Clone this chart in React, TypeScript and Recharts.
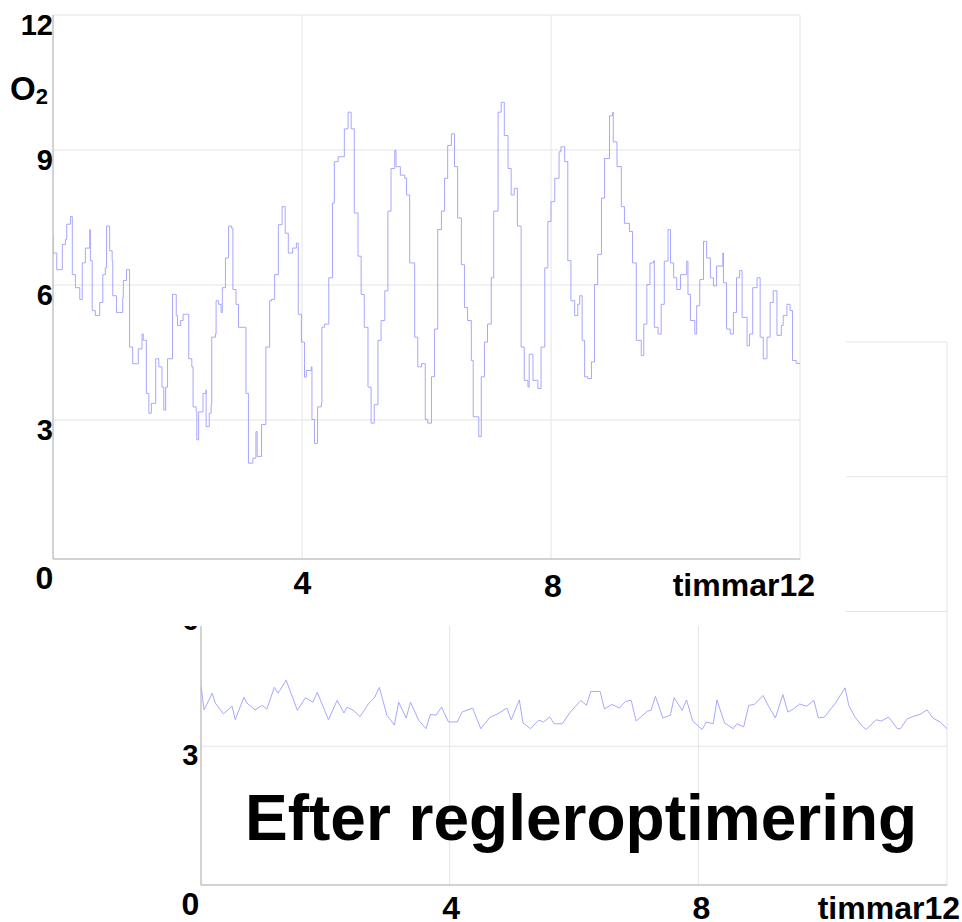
import React from "react"
import { LineChart, Line, XAxis, YAxis, CartesianGrid } from "recharts"

const FONT = "Arial, 'Liberation Sans', Helvetica, sans-serif"

// x in timmar (hours), y in O2
const hourTicks = [0, 4, 8, 12]
const o2Ticks = [3, 6, 9, 12]
const o2Domain = [-0.09, 12]
const xUnit = "timmar"
const afterTitle = "Efter regleroptimering"

// before optimisation
const before: [number, number][] = [
  [0, 7.08], [0, 6.71], [0.06, 6.65], [0.06, 6.34], [0.15, 6.49], [0.15, 6.9], [0.2, 7.01], [0.22, 7.35], [0.28, 7.52],
  [0.31, 7.52], [0.31, 6.23], [0.36, 6.05], [0.36, 5.94], [0.43, 5.83], [0.43, 5.68], [0.47, 5.94], [0.47, 6.49],
  [0.52, 6.6], [0.52, 6.82], [0.59, 6.93], [0.59, 7.23], [0.6, 6.54], [0.63, 6.38], [0.63, 5.43], [0.68, 5.32],
  [0.75, 5.61], [0.8, 6.23], [0.84, 6.38], [0.86, 7.31], [0.91, 7.31], [0.91, 6.76], [0.95, 6.54], [0.96, 5.76],
  [1.02, 5.61], [1.02, 5.39], [1.07, 5.39], [1.12, 5.72], [1.13, 6.1], [1.18, 6.34], [1.23, 6.34], [1.23, 4.62],
  [1.28, 4.48], [1.28, 4.25], [1.34, 4.25], [1.37, 4.58], [1.43, 4.91], [1.45, 4.77], [1.5, 3.59], [1.54, 3.4],
  [1.54, 3.15], [1.58, 3.15], [1.58, 3.37], [1.65, 3.51], [1.65, 4.36], [1.7, 4.18], [1.75, 3.73], [1.78, 3.22],
  [1.81, 3.22], [1.81, 3.73], [1.84, 3.85], [1.84, 4.36], [1.92, 5.79], [1.95, 5.79], [1.98, 5.32], [2.0, 5.1],
  [2.05, 5.21], [2.09, 5.35], [2.14, 5.35], [2.18, 4.36], [2.23, 4.18], [2.25, 3.29], [2.3, 3.18], [2.31, 2.56],
  [2.33, 2.56], [2.34, 3.18], [2.35, 3.18], [2.41, 3.59], [2.46, 3.67], [2.46, 2.85], [2.51, 3.15], [2.54, 3.34],
  [2.55, 4.84], [2.61, 4.91], [2.62, 5.65], [2.66, 5.57], [2.7, 5.39], [2.72, 5.94], [2.77, 6.05], [2.77, 6.6],
  [2.82, 6.65], [2.82, 7.31], [2.87, 7.26], [2.89, 5.9], [2.94, 5.57], [2.98, 5.06], [3.08, 5.06], [3.1, 3.59],
  [3.14, 3.45], [3.14, 2.04], [3.21, 2.15], [3.26, 2.15], [3.26, 2.74], [3.28, 2.19], [3.35, 2.9], [3.42, 4.62],
  [3.48, 5.65], [3.51, 5.68], [3.56, 6.23], [3.62, 7.34], [3.68, 7.74], [3.73, 7.15], [3.78, 6.71], [3.85, 6.82],
  [3.91, 6.93], [3.94, 5.35], [3.99, 4.73], [4.04, 4.55], [4.04, 3.95], [4.07, 4.1], [4.15, 4.18], [4.16, 3.01],
  [4.2, 2.48], [4.25, 3.29], [4.31, 3.37], [4.32, 5.06], [4.36, 5.13], [4.43, 6.16], [4.49, 7.82], [4.52, 8.74],
  [4.58, 8.85], [4.68, 9.47], [4.74, 9.84], [4.79, 9.47], [4.84, 7.6], [4.9, 6.64], [4.95, 5.79], [5.0, 5.06],
  [5.06, 3.73], [5.11, 2.93], [5.16, 3.34], [5.22, 4.77], [5.27, 5.21], [5.33, 5.87], [5.38, 7.64], [5.43, 8.59],
  [5.49, 8.99], [5.51, 8.63], [5.58, 8.44], [5.65, 8.37], [5.68, 8.0], [5.73, 6.49], [5.81, 4.84], [5.86, 4.18],
  [5.92, 4.25], [5.98, 3.01], [6.02, 2.93], [6.08, 3.96], [6.13, 5.02], [6.18, 7.23], [6.24, 7.64], [6.29, 8.37],
  [6.34, 9.1], [6.4, 9.36], [6.45, 8.63], [6.5, 7.49], [6.56, 6.45], [6.61, 5.5], [6.66, 5.21], [6.72, 4.32],
  [6.75, 3.07], [6.84, 2.63], [6.88, 3.96], [6.93, 4.73], [6.98, 5.13], [7.04, 6.16], [7.08, 7.64], [7.15, 9.84],
  [7.2, 10.06], [7.25, 9.32], [7.31, 8.59], [7.36, 8.0], [7.41, 8.15], [7.46, 7.31], [7.52, 4.62], [7.57, 3.88],
  [7.63, 3.73], [7.65, 4.46], [7.71, 3.88], [7.79, 3.7], [7.84, 4.62], [7.9, 6.38], [7.95, 7.41], [8.0, 7.85],
  [8.06, 8.37], [8.13, 8.96], [8.16, 9.07], [8.22, 8.74], [8.27, 6.54], [8.32, 5.65], [8.38, 5.32], [8.43, 5.57],
  [8.46, 5.76], [8.5, 4.77], [8.54, 3.96], [8.59, 3.92], [8.65, 4.29], [8.7, 6.01], [8.75, 6.68], [8.81, 7.93],
  [8.86, 8.81], [8.94, 9.76], [8.99, 9.84], [9.0, 9.18], [9.06, 8.63], [9.13, 7.74], [9.18, 7.37], [9.26, 7.19],
  [9.31, 6.49], [9.37, 4.77], [9.45, 4.43], [9.49, 5.13], [9.54, 6.01], [9.59, 6.49], [9.65, 6.54], [9.66, 5.06],
  [9.72, 4.91], [9.77, 5.57], [9.82, 6.53], [9.88, 7.23], [9.92, 6.49], [9.97, 6.16], [10.02, 5.9], [10.08, 6.23],
  [10.18, 6.53], [10.2, 5.79], [10.24, 5.21], [10.31, 4.91], [10.34, 5.54], [10.39, 6.12], [10.45, 6.97],
  [10.5, 6.6], [10.56, 6.16], [10.61, 5.98], [10.66, 6.42], [10.76, 6.71], [10.77, 6.05], [10.82, 5.02],
  [10.88, 4.91], [10.93, 5.39], [10.98, 6.16], [11.03, 6.32], [11.07, 5.28], [11.15, 4.65], [11.19, 4.91],
  [11.24, 5.94], [11.31, 6.16], [11.36, 4.84], [11.41, 4.36], [11.47, 4.84], [11.52, 5.61], [11.57, 5.87],
  [11.63, 4.88], [11.7, 5.1], [11.73, 5.32], [11.79, 5.57], [11.84, 5.43], [11.88, 4.32], [11.94, 4.26], [12.0, 4.25],
]

// after optimisation, lower plot
const after: [number, number][] = [
  [0, 4.33], [0.05, 3.81], [0.18, 4.18], [0.23, 3.96], [0.36, 3.72], [0.5, 3.89], [0.55, 3.59], [0.69, 4.09],
  [0.74, 3.96], [0.87, 3.81], [0.98, 3.91], [1.06, 3.83], [1.18, 4.31], [1.24, 4.18], [1.37, 4.47], [1.55, 3.8],
  [1.68, 4.08], [1.8, 3.98], [1.87, 4.2], [2.05, 3.59], [2.19, 4.02], [2.3, 3.74], [2.35, 3.87], [2.45, 3.8],
  [2.56, 3.66], [2.7, 3.96], [2.79, 4.08], [2.87, 4.31], [2.99, 3.69], [3.11, 3.47], [3.18, 3.98], [3.3, 3.63],
  [3.37, 3.98], [3.5, 3.58], [3.62, 3.39], [3.69, 3.71], [3.78, 3.69], [3.87, 3.87], [3.98, 3.54], [4.12, 3.54],
  [4.2, 3.76], [4.37, 3.85], [4.5, 3.39], [4.65, 3.65], [4.76, 3.71], [4.92, 3.85], [4.99, 3.59], [5.12, 4.03],
  [5.18, 3.52], [5.3, 3.39], [5.43, 3.58], [5.51, 3.54], [5.61, 3.65], [5.68, 3.5], [5.81, 3.5], [5.94, 3.76],
  [6.11, 4.02], [6.2, 3.91], [6.27, 4.22], [6.42, 4.22], [6.49, 3.83], [6.61, 3.93], [6.73, 3.85], [6.83, 4.0],
  [6.92, 4.02], [7.0, 3.56], [7.18, 3.78], [7.24, 3.8], [7.31, 4.11], [7.43, 3.63], [7.55, 3.69], [7.61, 4.08],
  [7.74, 3.8], [7.81, 4.03], [7.91, 3.56], [8.06, 3.37], [8.13, 3.54], [8.24, 3.5], [8.3, 4.03], [8.42, 3.52],
  [8.56, 3.39], [8.62, 3.5], [8.73, 3.43], [8.81, 3.91], [8.9, 3.93], [9.04, 4.13], [9.13, 3.89], [9.24, 3.63],
  [9.36, 4.15], [9.44, 3.76], [9.53, 3.83], [9.63, 3.94], [9.74, 3.89], [9.86, 4.02], [9.93, 3.63], [10.03, 3.65],
  [10.2, 3.95], [10.36, 4.3], [10.42, 3.91], [10.52, 3.65], [10.62, 3.47], [10.7, 3.37], [10.86, 3.59],
  [10.94, 3.56], [11.06, 3.65], [11.2, 3.39], [11.25, 3.39], [11.36, 3.61], [11.45, 3.66], [11.57, 3.71],
  [11.68, 3.81], [11.77, 3.63], [11.89, 3.54], [12.0, 3.39],
]

const toRows = (pts: [number, number][]) => pts.map(([t, v]) => ({ t, v }))

const GRID = "#e4e4e4"
const AXIS = "#b4b4b4"
const LINE = "#9d9dff"

type Offsets = Record<number, { dx: number; dy: number }>

// the labels in the original sit a bit unevenly, so each one gets its own nudge
const xTick = (offsets: Offsets) => (props: any) => {
  const { x, y, payload } = props
  const o = offsets[payload.value] ?? { dx: 0, dy: 35 }
  const last = payload.value === 12
  return (
    <text
      x={x + o.dx}
      y={y + o.dy}
      textAnchor={last ? "end" : "middle"}
      fontFamily={FONT}
      fontWeight="bold"
      fontSize={32}
      fill="#000"
    >
      {last ? `${xUnit}${payload.value}` : payload.value}
    </text>
  )
}

const yTick = (dx: number, dy: number) => (props: any) => {
  const { x, y, payload } = props
  return (
    <text x={x + dx} y={y + dy} textAnchor="end" fontFamily={FONT} fontWeight="bold" fontSize={29} fill="#000">
      {payload.value}
    </text>
  )
}

function O2Plot({ rows, width, height, margin, yWidth, xHeight, xOffsets, yDx, yDy, step }: any) {
  return (
    <LineChart width={width} height={height} data={rows} margin={margin}>
      <CartesianGrid stroke={GRID} />
      <XAxis
        dataKey="t"
        type="number"
        domain={[0, 12]}
        ticks={hourTicks}
        interval={0}
        allowDataOverflow
        height={xHeight}
        tickSize={0}
        tickMargin={0}
        tickLine={false}
        axisLine={{ stroke: AXIS }}
        tick={xTick(xOffsets)}
      />
      <YAxis
        type="number"
        domain={o2Domain}
        ticks={o2Ticks}
        interval={0}
        allowDataOverflow
        width={yWidth}
        tickSize={0}
        tickMargin={0}
        tickLine={false}
        axisLine={{ stroke: AXIS }}
        tick={yTick(yDx, yDy)}
      />
      <Line
        type={step ? "stepAfter" : "linear"}
        dataKey="v"
        stroke={LINE}
        strokeWidth={0.9}
        dot={false}
        activeDot={false}
        isAnimationActive={false}
      />
    </LineChart>
  )
}

export default function App() {
  return (
    <div style={{ position: "absolute", left: 0, top: 0, width: 962, height: 922, background: "#fff", overflow: "hidden" }}>
      {/* lower plot: after optimisation, partly hidden by the upper one */}
      <div style={{ position: "absolute", left: 0, top: 0, zIndex: 1 }}>
        <O2Plot
          rows={toRows(after)}
          width={962}
          height={922}
          margin={{ top: 342, right: 15, bottom: 0, left: 0 }}
          yWidth={201}
          xHeight={37}
          xOffsets={{ 0: { dx: -10.5, dy: 30 }, 4: { dx: 1.5, dy: 34 }, 8: { dx: 3, dy: 34 }, 12: { dx: 13, dy: 34 } }}
          yDx={-2.5}
          yDy={19}
          step={false}
        />
      </div>

      {/* upper plot: before, white box on top */}
      <div style={{ position: "absolute", left: 0, top: 0, width: 846, height: 626, background: "#fff", zIndex: 2 }}>
        <O2Plot
          rows={toRows(before)}
          width={846}
          height={626}
          margin={{ top: 15, right: 46, bottom: 0, left: 0 }}
          yWidth={53}
          xHeight={67}
          xOffsets={{ 0: { dx: -8.5, dy: 30 }, 4: { dx: 0.5, dy: 35 }, 8: { dx: 2, dy: 38 }, 12: { dx: 15, dy: 37 } }}
          yDx={0}
          yDy={20}
          step
        />
      </div>

      <svg width={962} height={922} style={{ position: "absolute", left: 0, top: 0, zIndex: 3, pointerEvents: "none" }}>
        <text x={10} y={100} fontFamily={FONT} fontWeight="bold" fontSize={33} fill="#000">
          O<tspan dy={4} fontSize={22}>2</tspan>
        </text>
        <text x={245} y={840} fontFamily={FONT} fontWeight="bold" fontSize={64} fill="#000">
          {afterTitle}
        </text>
      </svg>
    </div>
  )
}
